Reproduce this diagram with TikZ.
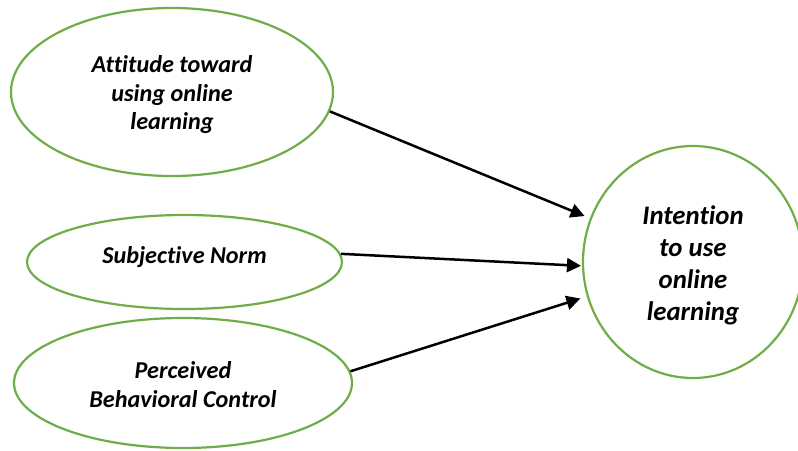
\documentclass[tikz,border=0pt]{standalone}
\usepackage{fontspec}
\setmainfont{Carlito}[Ligatures=CommonOff]
\usetikzlibrary{shapes.geometric,arrows.meta}
\definecolor{ellgreen}{HTML}{70AD47}
\begin{document}
\begin{tikzpicture}[x=1pt,y=-1pt,
  construct/.style={ellipse, draw=ellgreen, line width=2.2pt, inner sep=0pt},
  ctext/.style={align=center, inner sep=0pt,
    font=\fontsize{24.2}{28.5}\selectfont\bfseries\itshape},
  btext/.style={align=center, inner sep=0pt,
    font=\fontsize{26.8}{32}\selectfont\bfseries\itshape},
  link/.style={-{Triangle[length=14pt,width=14pt]}, line width=2.5pt, black}]
\useasboundingbox (0,0) rectangle (798,450);
\node[construct, minimum width=322pt, minimum height=168pt,
  label={[ctext, yshift=-3pt]center:Attitude toward\\using online\\learning}] (att) at (172,92) {};
\node[construct, minimum width=315pt, minimum height=94pt,
  label={[ctext, yshift=5pt]center:Subjective Norm}] (sn) at (184.5,262) {};
\node[construct, minimum width=338pt, minimum height=130pt,
  label={[ctext, yshift=-1.5pt]center:Perceived\\Behavioral Control}] (pbc) at (183,383) {};
\node[construct, minimum width=220pt, minimum height=232pt,
  label={[btext, yshift=-3.5pt]center:Intention\\to use\\online\\learning}] (int) at (693,262) {};
\draw[link, shorten >=5.8pt] (att.-7.6) -- (int.157.8);
\draw[link, shorten >=1pt] (sn.3.3) -- (int.182.6);
\draw[link, shorten >=6.7pt] (pbc.4.8) -- (int.198.9);
\end{tikzpicture}
\end{document}
